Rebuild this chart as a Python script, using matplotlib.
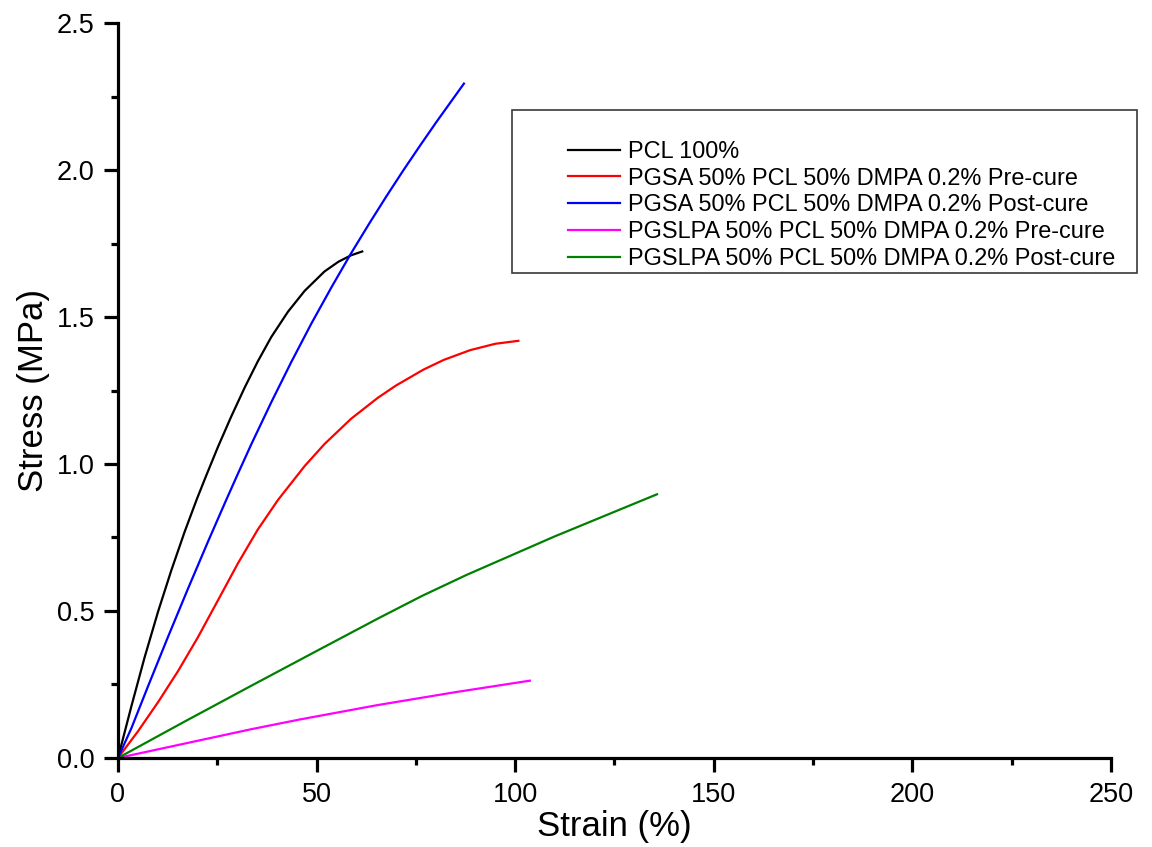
import matplotlib
matplotlib.use("Agg")
import matplotlib.pyplot as plt
from matplotlib.patches import Rectangle
from matplotlib.ticker import MultipleLocator

plt.rcParams['font.family'] = ['Liberation Sans', 'DejaVu Sans']

# Tensile stress-strain curves: strain (%) and stress (MPa)
pcl_strain = [0, 3.4, 6.7, 10.1, 13.4, 16.8, 19.9, 22.2, 25.2, 28.5, 31.9, 35.2,
              38.6, 42.8, 47.0, 52.0, 55.5, 58.7, 61.5]
pcl_stress = [0, 0.177, 0.342, 0.498, 0.637, 0.770, 0.882, 0.960, 1.059, 1.161,
              1.260, 1.349, 1.432, 1.518, 1.589, 1.655, 1.688, 1.710, 1.723]

pgsa_pre_strain = [0, 5.0, 10.1, 15.1, 20.1, 25.2, 30.2, 35.2, 40.3, 47.0, 52.0,
                   58.7, 65.4, 70.0, 76.9, 82.0, 88.6, 95.0, 100.8]
pgsa_pre_stress = [0, 0.090, 0.190, 0.295, 0.410, 0.537, 0.662, 0.777, 0.878, 0.993,
                   1.068, 1.154, 1.225, 1.267, 1.321, 1.354, 1.387, 1.409, 1.419]

pgsa_post_strain = [0, 3.4, 7.6, 12.6, 17.6, 22.7, 27.0, 30.2, 33.6, 38.6, 43.6,
                    48.7, 53.7, 58.7, 63.4, 67.6, 71.8, 76.0, 80.2, 87.1]
pgsa_post_stress = [0, 0.102, 0.245, 0.412, 0.575, 0.737, 0.870, 0.967, 1.068, 1.210,
                    1.346, 1.478, 1.600, 1.717, 1.821, 1.911, 1.998, 2.082, 2.164, 2.294]

pgslpa_pre_strain = [0, 16.8, 33.6, 45.8, 65.4, 85.0, 103.7]
pgslpa_pre_stress = [0, 0.049, 0.098, 0.131, 0.180, 0.224, 0.263]

pgslpa_post_strain = [0, 16.8, 33.6, 50.3, 65.4, 76.5, 87.8, 110.0, 135.7]
pgslpa_post_stress = [0, 0.124, 0.246, 0.366, 0.474, 0.551, 0.623, 0.754, 0.897]

labels = [
    "PCL 100%",
    "PGSA 50% PCL 50% DMPA 0.2% Pre-cure",
    "PGSA 50% PCL 50% DMPA 0.2% Post-cure",
    "PGSLPA 50% PCL 50% DMPA 0.2% Pre-cure",
    "PGSLPA 50% PCL 50% DMPA 0.2% Post-cure",
]
colors = ["#000000", "#ff0000", "#0000ff", "#ff00ff", "#008000"]

series = [
    (pcl_strain, pcl_stress),
    (pgsa_pre_strain, pgsa_pre_stress),
    (pgsa_post_strain, pgsa_post_stress),
    (pgslpa_pre_strain, pgslpa_pre_stress),
    (pgslpa_post_strain, pgslpa_post_stress),
]

fig = plt.figure(figsize=(11.52, 8.47), dpi=100)
ax = fig.add_axes([0.1024, 0.1051, 0.862, 0.8677])

handles = []
for (xs, ys), lab, col in zip(series, labels, colors):
    h, = ax.plot(xs, ys, color=col, lw=1.6, label=lab, solid_joinstyle='round')
    handles.append(h)

ax.set_xlim(0, 250)
ax.set_ylim(0, 2.5)
ax.xaxis.set_major_locator(MultipleLocator(50))
ax.xaxis.set_minor_locator(MultipleLocator(25))
ax.yaxis.set_major_locator(MultipleLocator(0.5))
ax.yaxis.set_minor_locator(MultipleLocator(0.25))
ax.xaxis.set_major_formatter(plt.FuncFormatter(lambda v, p: f"{v:.0f}"))
ax.yaxis.set_major_formatter(plt.FuncFormatter(lambda v, p: f"{v:.1f}"))

for side in ("top", "right"):
    ax.spines[side].set_visible(False)
for side in ("left", "bottom"):
    ax.spines[side].set_linewidth(2.3)

ax.tick_params(which='major', direction='out', length=10, width=2.3,
               labelsize=19.5, pad=7)
ax.tick_params(which='minor', direction='out', length=5, width=2.3)

ax.set_xlabel("Strain (%)", fontsize=25, labelpad=1.5)
ax.set_ylabel("Stress (MPa)", fontsize=25, labelpad=5)

# Legend entries with a separately drawn frame
leg = fig.legend(handles=handles, labels=labels, loc='upper left',
                 bbox_to_anchor=(568 / 1152, 1 - 141 / 847),
                 bbox_transform=fig.transFigure, frameon=False,
                 fontsize=16.95, borderpad=0, borderaxespad=0,
                 handlelength=2.2, handletextpad=0.35, labelspacing=0.2)
for line in leg.get_lines():
    line.set_linewidth(1.6)

fig.patches.append(Rectangle((512 / 1152, 1 - 273 / 847),
                             (1137 - 512) / 1152, (273 - 110) / 847,
                             transform=fig.transFigure, fill=False,
                             edgecolor='#3a3a3a', linewidth=1.2))

fig.savefig("out.png", dpi=100)
